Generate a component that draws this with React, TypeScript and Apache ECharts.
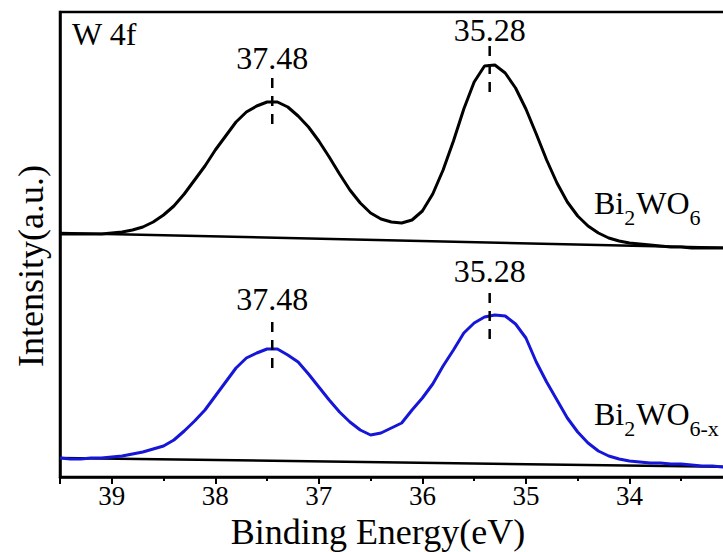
import React, { useEffect, useRef } from 'react';
import * as echarts from 'echarts';

// Binding energy (eV), 39.5 -> 33.0 in 0.1 eV steps
const energy = [
  39.5, 39.4, 39.3, 39.2, 39.1, 39.0, 38.9, 38.8, 38.7, 38.6,
  38.5, 38.4, 38.3, 38.2, 38.1, 38.0, 37.9, 37.8, 37.7, 37.6,
  37.5, 37.4, 37.3, 37.2, 37.1, 37.0, 36.9, 36.8, 36.7, 36.6,
  36.5, 36.4, 36.3, 36.2, 36.1, 36.0, 35.9, 35.8, 35.7, 35.6,
  35.5, 35.4, 35.3, 35.2, 35.1, 35.0, 34.9, 34.8, 34.7, 34.6,
  34.5, 34.4, 34.3, 34.2, 34.1, 34.0, 33.9, 33.8, 33.7, 33.6,
  33.5, 33.4, 33.3, 33.2, 33.1, 33.0,
];

// Bi2WO6 (offset spectrum, a.u.)
const bi2wo6 = [
  243, 243, 243, 243, 243, 244, 245, 247, 250, 255,
  262, 271, 283, 297, 311, 327, 341, 355, 365, 371,
  375, 375, 370, 361, 350, 336, 320, 303, 287, 274,
  264, 258, 255, 254, 257, 266, 283, 307, 336, 368,
  395, 411, 412, 404, 389, 368, 343, 317, 294, 275,
  261, 251, 244, 239, 236, 234, 233, 232, 231, 230,
  230, 229, 229, 229, 229, 229,
];

// Bi2WO6-x (a.u.)
const bi2wo6x = [
  19, 18, 18, 19, 19, 20, 21, 23, 25, 28,
  31, 37, 46, 56, 67, 81, 95, 109, 119, 124,
  128, 128, 122, 115, 103, 90, 77, 65, 55, 47,
  42, 44, 49, 54, 67, 79, 93, 111, 127, 144,
  154, 160, 162, 161, 153, 139, 115, 95, 77, 59,
  45, 34, 26, 21, 18, 16, 15, 14, 14, 13,
  13, 12, 11, 11, 10, 10,
];

// Linear backgrounds [energy, intensity]
const bgTop = [[39.5, 244], [33.0, 229]];
const bgBottom = [[39.5, 19], [33.0, 10]];

// Peak markers
const peakLabels = ['37.48', '35.28', '37.48', '35.28'];
const peakX = [37.45, 35.35, 37.45, 35.35];
const dashTop = [399, 431, 155, 184];
const dashBottom = [347, 380, 105, 135];
const labelGap = [4, 0, 7, 6];

const xTicks = [34, 35, 36, 37, 38, 39];

const FONT_NAME = 'Liberation Serif';
const FONT = '"Liberation Serif", "Times New Roman", serif';
const BLUE = '#1616d8';

type Part = { t: string; sub?: boolean };
const sampleTop: Part[] = [{ t: 'Bi' }, { t: '2', sub: true }, { t: 'WO' }, { t: '6', sub: true }];
const sampleBottom: Part[] = [{ t: 'Bi' }, { t: '2', sub: true }, { t: 'WO' }, { t: '6-x', sub: true }];

function formula(parts: Part[], x: number, baseline: number) {
  const ctx = document.createElement('canvas').getContext('2d') as CanvasRenderingContext2D;
  const mainSize = 32;
  const subSize = 22;
  const children: any[] = [];
  let cx = x;
  parts.forEach((p) => {
    const size = p.sub ? subSize : mainSize;
    ctx.font = `${size}px "${FONT_NAME}"`;
    const w = ctx.measureText(p.t).width;
    const base = p.sub ? baseline + 11 : baseline;
    children.push({
      type: 'text',
      x: cx,
      y: base - size * 0.3,
      style: {
        text: p.t,
        fontSize: size,
        fontFamily: FONT,
        fill: '#000',
        align: 'left',
        verticalAlign: 'middle',
      },
    });
    cx += w + (p.sub ? 1 : 0);
  });
  return { type: 'group', children };
}

export default function App() {
  const ref = useRef<HTMLDivElement>(null);

  useEffect(() => {
    const chart = echarts.init(ref.current as HTMLDivElement, null, { renderer: 'svg' });

    const series: any[] = [
      {
        type: 'line',
        name: 'bgTop',
        data: bgTop,
        symbol: 'none',
        lineStyle: { color: '#000', width: 2.5 },
        z: 2,
      },
      {
        type: 'line',
        name: 'bgBottom',
        data: bgBottom,
        symbol: 'none',
        lineStyle: { color: '#000', width: 2.5 },
        z: 2,
      },
      {
        type: 'line',
        name: 'Bi2WO6',
        data: energy.map((e, i) => [e, bi2wo6[i]]),
        symbol: 'none',
        lineStyle: { color: '#000', width: 3 },
        z: 3,
      },
      {
        type: 'line',
        name: 'Bi2WO6-x',
        data: energy.map((e, i) => [e, bi2wo6x[i]]),
        symbol: 'none',
        lineStyle: { color: BLUE, width: 3 },
        z: 3,
      },
    ];

    peakLabels.forEach((txt, i) => {
      series.push({
        type: 'line',
        name: 'peak' + i,
        symbol: 'circle',
        symbolSize: 1,
        showSymbol: true,
        itemStyle: { color: 'rgba(0,0,0,0)' },
        lineStyle: { color: '#000', width: 2.5, type: [10, 8] },
        z: 4,
        data: [
          {
            value: [peakX[i], dashTop[i]],
            label: {
              show: true,
              position: 'top',
              distance: labelGap[i],
              formatter: txt,
              fontSize: 32,
              fontFamily: FONT,
              color: '#000',
            },
          },
          { value: [peakX[i], dashBottom[i]], label: { show: false } },
        ],
      });
    });

    chart.setOption({
      animation: false,
      backgroundColor: '#fff',
      grid: {
        left: 60,
        top: 12,
        right: 7,
        bottom: 75,
        show: true,
        borderColor: '#000',
        borderWidth: 2.5,
        containLabel: false,
        outerBoundsMode: 'none',
      },
      xAxis: {
        type: 'value',
        min: 33,
        max: 39.5,
        interval: 1,
        inverse: true,
        axisLine: { show: true, onZero: false, lineStyle: { color: '#000', width: 2.5 } },
        axisTick: { show: true, inside: false, length: 7, lineStyle: { color: '#000', width: 2 } },
        minorTick: { show: true, splitNumber: 2, length: 4, lineStyle: { color: '#000', width: 2 } },
        splitLine: { show: false },
        axisLabel: {
          margin: 5,
          fontSize: 27,
          fontFamily: FONT,
          color: '#000',
          showMinLabel: false,
          formatter: (v: number) => (xTicks.indexOf(v) >= 0 ? String(v) : ''),
        },
      },
      yAxis: {
        type: 'value',
        min: 0,
        max: 465,
        axisLine: { show: true, onZero: false, lineStyle: { color: '#000', width: 2.5 } },
        axisTick: { show: false },
        axisLabel: { show: false },
        splitLine: { show: false },
      },
      graphic: [
        {
          type: 'text',
          x: 72,
          y: 34,
          style: { text: 'W 4f', fontSize: 32, fontFamily: FONT, fill: '#000', verticalAlign: 'middle' },
        },
        {
          type: 'text',
          x: 31,
          y: 266,
          rotation: Math.PI / 2,
          style: {
            text: 'Intensity(a.u.)',
            fontSize: 36,
            fontFamily: FONT,
            fill: '#000',
            align: 'center',
            verticalAlign: 'middle',
          },
        },
        {
          type: 'text',
          x: 378,
          y: 532,
          style: {
            text: 'Binding Energy(eV)',
            fontSize: 36,
            fontFamily: FONT,
            fill: '#000',
            align: 'center',
            verticalAlign: 'middle',
          },
        },
        formula(sampleTop, 594, 213),
        formula(sampleBottom, 594, 424),
      ],
      series,
    });

    return () => chart.dispose();
  }, []);

  return (
    <div
      style={{
        position: 'fixed',
        left: 0,
        top: 0,
        width: 723,
        height: 552,
        overflow: 'hidden',
        background: '#fff',
      }}
    >
      <div ref={ref} style={{ width: 740, height: 552 }} />
    </div>
  );
}
